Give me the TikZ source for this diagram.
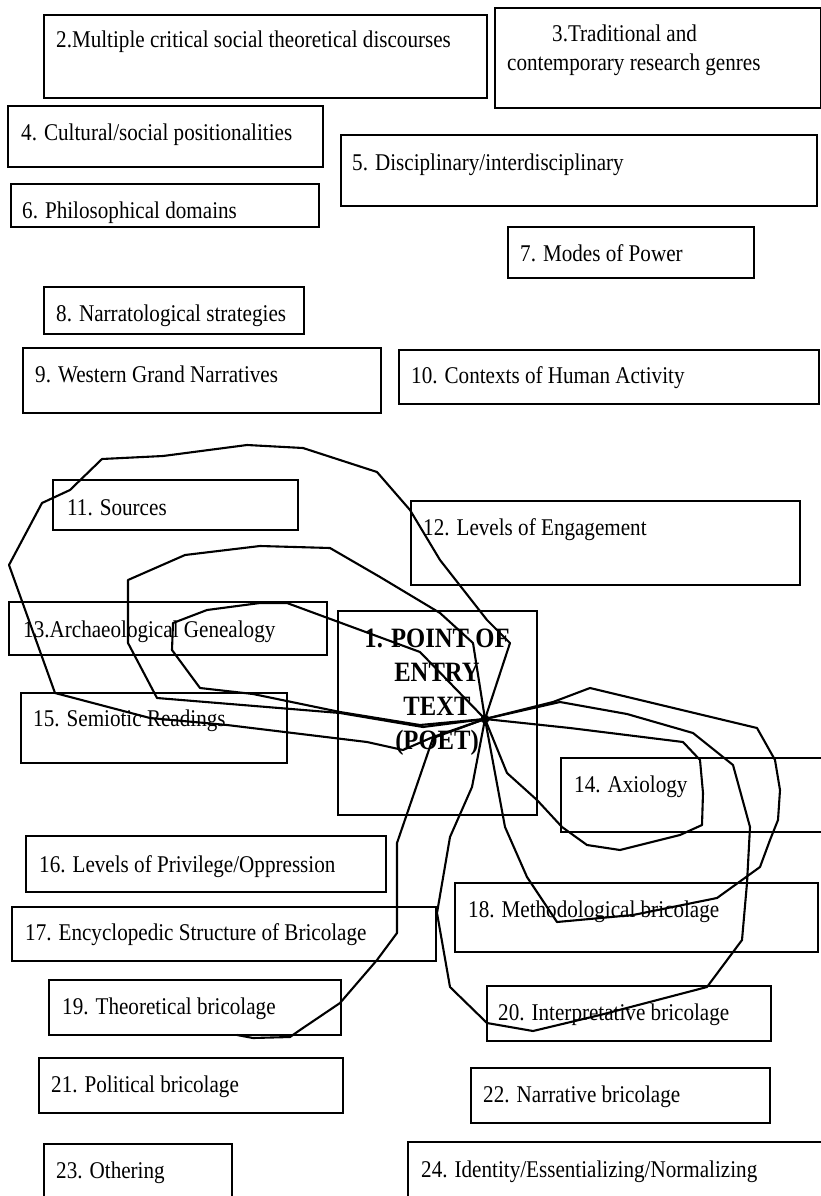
\documentclass[tikz,border=0pt]{standalone}
\usepackage{fontspec}
\setmainfont{Liberation Serif}[FakeStretch=0.88]
\begin{document}
\begin{tikzpicture}[x=1pt,y=-1pt,
  frame/.style={draw=black, line width=2.6pt, inner sep=0pt, outer sep=0pt},
  lab/.style={anchor=base west, inner sep=0pt, font=\fontsize{24}{29}\selectfont},
  petal/.style={draw=black, line width=2.1pt, line join=round, line cap=round}]
\newcommand\labbox[8]{%
  \node[frame, minimum width={#4-#2}, minimum height={#5-#3}, anchor=north west] (#1) at (#2,#3) {};
  \node[lab] (#1t) at (#6,#7) {#8};}
\useasboundingbox (0,0) rectangle (821,1196);
\fill[white] (0,0) rectangle (821,1196);
\clip (0,0) rectangle (821,1196);

% outer ring of categories
\labbox{b2}{44}{15}{487}{98}{56}{48}{2.Multiple critical social theoretical discourses}
\node[frame, minimum width=326, minimum height=100, anchor=north west] (b3) at (495,8) {};
\node[lab] (b3t) at (552,42) {3.Traditional and};
\node[lab] (b3u) at (507,71) {contemporary research genres};
\labbox{b4}{8}{106}{323}{167}{21}{140}{4. Cultural/social positionalities}
\labbox{b5}{341}{135}{817}{206}{352}{170}{5. Disciplinary/interdisciplinary}
\labbox{b6}{11}{184}{319}{227}{22}{218}{6. Philosophical domains}
\labbox{b7}{508}{227}{754}{278}{520}{261}{7. Modes of Power}
\labbox{b8}{44}{287}{304}{334}{56}{321}{8. Narratological strategies}
\labbox{b9}{23}{348}{381}{413}{35}{382}{9. Western Grand Narratives}
\labbox{b10}{399}{350}{819}{404}{411}{383}{10. Contexts of Human Activity}
\labbox{b11}{53}{480}{298}{530}{67}{515}{11. Sources}
\labbox{b12}{411}{501}{800}{585}{423}{535}{12. Levels of Engagement}
\labbox{b13}{9}{602}{327}{655}{23}{637}{13.Archaeological Genealogy}
\labbox{b15}{21}{693}{287}{763}{33}{726}{15. Semiotic Readings}
\labbox{b14}{561}{758}{840}{832}{574}{792}{14. Axiology}
\labbox{b16}{26}{836}{386}{892}{39}{872}{16. Levels of Privilege/Oppression}
\labbox{b17}{12}{907}{436}{961}{25}{940}{17. Encyclopedic Structure of Bricolage}
\labbox{b18}{455}{883}{818}{952}{468}{917}{18. Methodological bricolage}
\labbox{b19}{49}{980}{341}{1035}{62}{1014}{19. Theoretical bricolage}
\labbox{b20}{487}{986}{771}{1041}{498}{1020}{20. Interpretative bricolage}
\labbox{b21}{39}{1058}{343}{1113}{51}{1092}{21. Political bricolage}
\labbox{b22}{471}{1068}{770}{1123}{483}{1102}{22. Narrative bricolage}
\labbox{b23}{44}{1144}{232}{1210}{56}{1178}{23. Othering}
\labbox{b24}{408}{1142}{840}{1210}{421}{1177}{24. Identity/Essentializing/Normalizing}

% the point of entry
\node[frame, minimum width=199, minimum height=204, anchor=north west] (b1) at (338,611) {};
\node[anchor=north, inner sep=0pt, align=center,
      font=\fontsize{28}{34}\selectfont\bfseries] (b1t) at (437,629)
      {1. POINT OF\\ENTRY\\TEXT\\(POET)};
\coordinate (P) at (485,719);

% petals of the bricolage drawn out of the point of entry
\draw[petal] (P) -- (510,643) -- (487,620) -- (440,560) -- (410,510) -- (377,472)
  -- (303,448) -- (247,445) -- (163,456) -- (102,459) -- (70,490) -- (42,503)
  -- (9,565) -- (55,693) -- (150,718) -- (227,725) -- (367,742) -- (403,750)
  -- (433,737) -- (P);
\draw[petal] (P) -- (473,643) -- (440,613) -- (380,577) -- (330,548) -- (260,546)
  -- (185,555) -- (128,580) -- (128,643) -- (157,698) -- (340,713) -- (423,727) -- (P);
\draw[petal] (P) -- (420,652) -- (287,603) -- (260,603) -- (207,610) -- (173,623)
  -- (172,650) -- (200,688) -- (253,694) -- (340,712) -- (420,725) -- (P);
\draw[petal] (P) -- (553,702) -- (590,688) -- (757,728) -- (775,760) -- (780,790)
  -- (778,820) -- (770,840) -- (760,867) -- (717,898) -- (633,915) -- (557,922)
  -- (527,877) -- (505,827) -- (P);
\draw[petal] (P) -- (560,702) -- (627,714) -- (693,733) -- (733,765) -- (750,827)
  -- (747,883) -- (742,940) -- (707,987) -- (600,1015) -- (533,1031) -- (487,1023)
  -- (450,987) -- (437,913) -- (450,837) -- (472,787) -- (P);
\draw[petal] (P) -- (570,728) -- (683,742) -- (700,760) -- (703,793) -- (702,825)
  -- (680,835) -- (620,850) -- (587,845) -- (562,827) -- (537,800) -- (507,773) -- (P);
\draw[petal] (P) -- (433,738) -- (397,843) -- (397,933) -- (377,960) -- (340,1003)
  -- (300,1030) -- (290,1037) -- (253,1038) -- (237,1035);
\fill (P) circle (4.5);
\end{tikzpicture}
\end{document}
